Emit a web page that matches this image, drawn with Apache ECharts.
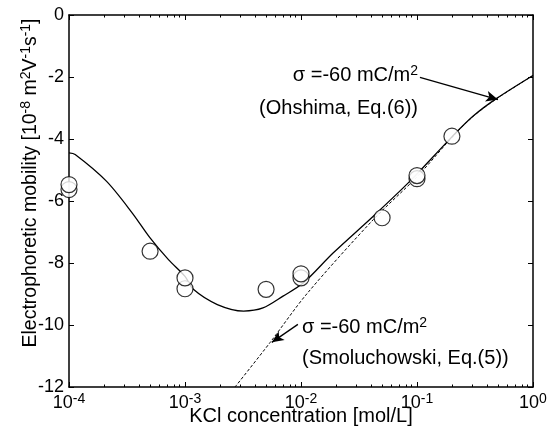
<!DOCTYPE html>
<html><head><meta charset="utf-8">
<script src="https://cdn.jsdelivr.net/npm/echarts@6/dist/echarts.min.js"></script>
<style>html,body{margin:0;padding:0;background:#fff}#c{width:555px;height:432px}</style>
</head><body><div id="c"></div>
<script>
// measured data (KCl concentration in mol/L, mobility in 1e-8 m2/(V s))
const concentrations = [1e-4, 1e-4, 5e-4, 1e-3, 1e-3, 5e-3, 1e-2, 1e-2, 5e-2, 0.1, 0.1, 0.2];
const mobilities = [-5.63, -5.47, -7.62, -8.83, -8.48, -8.85, -8.48, -8.35, -6.54, -5.28, -5.18, -3.91];
// Ohshima, Eq.(6)
const ohshimaConc = [1e-4, 1.13e-4, 2.1e-4, 3.5e-4, 5e-4, 7.2e-4, 1e-3, 1.18e-3, 1.9e-3, 3.2e-3, 4.7e-3, 7e-3, 1.05e-2, 1.9e-2, 4.2e-2, 8.7e-2, 0.2, 0.305, 0.486, 1];
const ohshimaMob = [-4.45, -4.5, -5.36, -6.38, -7.19, -7.89, -8.43, -8.85, -9.34, -9.55, -9.45, -9.07, -8.64, -7.67, -6.49, -5.36, -3.93, -3.26, -2.69, -1.95];
// Smoluchowski, Eq.(5)
const smolConc = [2.7e-3, 5.4e-3, 1.12e-2, 4.2e-2, 0.1, 0.2, 0.305, 0.486, 1];
const smolMob = [-12, -10.57, -9.0, -6.6, -5.22, -3.95, -3.27, -2.7, -1.95];
// tick labels
const xExponents = [-4, -3, -2, -1, 0];
const yTickValues = [0, -2, -4, -6, -8, -10, -12];
// annotation arrows [from, to] in data coordinates
const ohshimaArrow = [[0.106, -2.016], [0.499, -2.726]];
const smolArrow = [[0.0094, -9.98], [0.0056, -10.56]];

const FONT = "'Liberation Sans', Arial, sans-serif";
const minorTicks = [];
xExponents.slice(0, -1).forEach(n => { for (let k = 2; k <= 9; k++) minorTicks.push(n + Math.log10(k)); });

const supRich = {
  s: { fontSize: 14, fontFamily: FONT, color: '#000', padding: [0, 0, 9, 0] }
};
function tickOnlyX(pos, values, len, showLine) {
  return {
    type: 'value', position: pos, min: xExponents[0], max: xExponents[xExponents.length - 1],
    axisLine: { show: showLine, onZero: false, lineStyle: { color: '#000', width: 1.5 } },
    axisTick: { show: true, inside: true, length: len, customValues: values, lineStyle: { color: '#000', width: 1 } },
    axisLabel: { show: false }, splitLine: { show: false }
  };
}

const chart = echarts.init(document.getElementById('c'), null, { renderer: 'canvas' });
chart.setOption({
  animation: false,
  backgroundColor: '#fff',
  grid: { left: 69, top: 15, width: 464, height: 372, containLabel: false, outerBoundsMode: 'none' },
  xAxis: [
    {
      type: 'log', logBase: 10, min: 1e-4, max: 1, position: 'bottom',
      axisLine: { show: true, onZero: false, lineStyle: { color: '#000', width: 1.5 } },
      axisTick: { show: false }, axisLabel: { show: false }, splitLine: { show: false }, minorTick: { show: false }
    },
    {
      type: 'value', position: 'bottom', min: -4, max: 0, interval: 1,
      axisLine: { show: false, onZero: false },
      axisTick: { show: true, inside: true, length: 5, lineStyle: { color: '#000', width: 1 } },
      axisLabel: {
        show: true, margin: 5, showMinLabel: true, showMaxLabel: true,
        fontSize: 18, fontFamily: FONT, color: '#000',
        formatter: v => '10{s|' + v + '}', rich: supRich
      },
      splitLine: { show: false },
      name: 'KCl concentration [mol/L]', nameLocation: 'middle', nameGap: 19, nameMoveOverlap: false,
      nameTextStyle: { fontSize: 20, fontFamily: FONT, color: '#000' }
    },
    tickOnlyX('bottom', minorTicks, 2.5, false),
    tickOnlyX('top', xExponents, 5, true),
    tickOnlyX('top', minorTicks, 2.5, false)
  ],
  yAxis: [
    {
      type: 'value', position: 'left', min: yTickValues[yTickValues.length - 1], max: yTickValues[0], interval: 2,
      axisLine: { show: true, onZero: false, lineStyle: { color: '#000', width: 1.5 } },
      axisTick: { show: true, inside: true, length: 5, lineStyle: { color: '#000', width: 1 } },
      axisLabel: { show: true, margin: 5, fontSize: 18, fontFamily: FONT, color: '#000' },
      splitLine: { show: false },
      name: 'Electrophoretic mobility [10{s|-8} m{s|2}V{s|-1}s{s|-1}]',
      nameLocation: 'middle', nameGap: 27, nameMoveOverlap: false,
      nameTextStyle: { fontSize: 19.5, fontFamily: FONT, color: '#000', rich: supRich, padding: [0, 0, 0, 36] }
    },
    {
      type: 'value', position: 'right', min: yTickValues[yTickValues.length - 1], max: yTickValues[0], interval: 2,
      axisLine: { show: true, onZero: false, lineStyle: { color: '#000', width: 1.5 } },
      axisTick: { show: true, inside: true, length: 5, lineStyle: { color: '#000', width: 1 } },
      axisLabel: { show: false }, splitLine: { show: false }
    }
  ],
  series: [
    {
      type: 'line', name: 'Smoluchowski', xAxisIndex: 0, yAxisIndex: 0,
      data: smolConc.map((c, i) => [c, smolMob[i]]),
      showSymbol: false, smooth: 0.3, clip: true, z: 2,
      lineStyle: { color: '#000', width: 1, type: [3, 2] },
      markLine: {
        silent: true, symbol: ['none', 'arrow'], symbolSize: [8, 12], animation: false,
        label: { show: false }, lineStyle: { color: '#000', width: 1.3, type: 'solid' },
        data: [[{ coord: smolArrow[0] }, { coord: smolArrow[1] }]]
      }
    },
    {
      type: 'line', name: 'Ohshima', xAxisIndex: 0, yAxisIndex: 0,
      data: ohshimaConc.map((c, i) => [c, ohshimaMob[i]]),
      showSymbol: false, smooth: 0.3, clip: true, z: 3,
      lineStyle: { color: '#000', width: 1.3 },
      markLine: {
        silent: true, symbol: ['none', 'arrow'], symbolSize: [8, 12], animation: false,
        label: { show: false }, lineStyle: { color: '#000', width: 1.3, type: 'solid' },
        data: [[{ coord: ohshimaArrow[0] }, { coord: ohshimaArrow[1] }]]
      }
    },
    {
      type: 'scatter', name: 'Experiment', xAxisIndex: 0, yAxisIndex: 0,
      data: concentrations.map((c, i) => [c, mobilities[i]]),
      symbol: 'circle', symbolSize: 16, z: 5,
      itemStyle: { color: '#fff', borderColor: '#000', borderWidth: 1.2 }
    }
  ],
  graphic: [
    { type: 'text', right: 555 - 418, top: 64, z: 10,
      style: { text: '{n|σ =-60 mC/m}{s|2}', rich: { n: { fontSize: 20, fontFamily: FONT, color: '#000' }, s: supRich.s } } },
    { type: 'text', right: 555 - 418, top: 98, z: 10,
      style: { text: '(Ohshima, Eq.(6))', fontSize: 20, fontFamily: FONT, fill: '#000' } },
    { type: 'text', left: 302, top: 316, z: 10,
      style: { text: '{n|σ =-60 mC/m}{s|2}', rich: { n: { fontSize: 20, fontFamily: FONT, color: '#000' }, s: supRich.s } } },
    { type: 'text', left: 302, top: 348, z: 10,
      style: { text: '(Smoluchowski, Eq.(5))', fontSize: 20, fontFamily: FONT, fill: '#000' } }
  ]
});
</script></body></html>
